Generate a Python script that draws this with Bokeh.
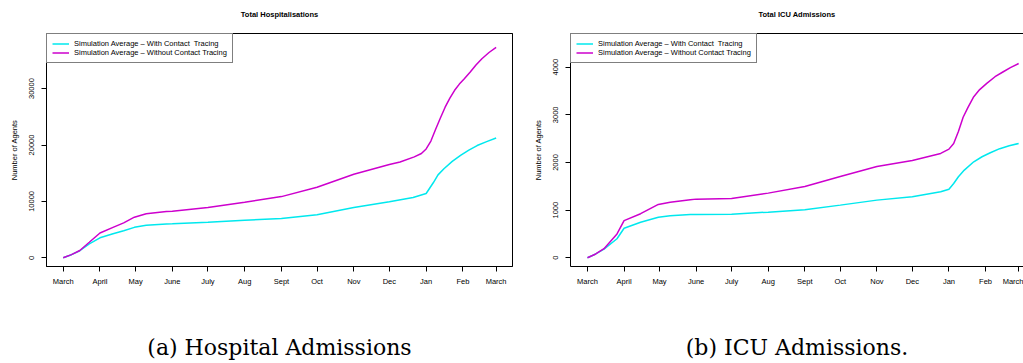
from bokeh.plotting import figure
from bokeh.layouts import row
from bokeh.models import FixedTicker, Legend, LegendItem, LinearAxis, Range1d
from bokeh.embed import file_html
from bokeh.resources import INLINE

# ---- data ----
month_days = [0, 31, 61, 92, 122, 153, 184, 214, 245, 275, 306, 337, 365]
month_labels = ["March", "April", "May", "June", "July", "Aug", "Sept", "Oct",
                "Nov", "Dec", "Jan", "Feb", "March"]

hosp_ct_days = [0, 7, 14, 22, 31, 42, 51, 60, 70, 87, 92, 122, 153, 184, 214, 245,
                275, 295, 306, 312, 316, 321, 328, 335, 342, 349, 357, 365]
hosp_ct_vals = [0, 550, 1250, 2480, 3540, 4250, 4800, 5400, 5770, 6000, 6020, 6300,
                6650, 6950, 7650, 8900, 9950, 10700, 11400, 13300, 14700, 15800,
                17100, 18150, 19100, 19900, 20600, 21240]

hosp_noct_days = [0, 7, 14, 22, 31, 42, 51, 60, 70, 87, 92, 122, 153, 184, 214, 245,
                  275, 284, 296, 302, 306, 310, 314, 318, 322, 326, 330, 334, 338,
                  343, 348, 353, 359, 365]
hosp_noct_vals = [0, 560, 1300, 2750, 4400, 5400, 6200, 7200, 7800, 8200, 8250, 8900,
                  9850, 10850, 12500, 14800, 16550, 17000, 17900, 18500, 19300,
                  20700, 22800, 24800, 26700, 28300, 29700, 30800, 31700, 32900,
                  34200, 35300, 36400, 37300]

icu_ct_days = [0, 7, 14, 25, 31, 45, 60, 70, 87, 92, 122, 153, 184, 214, 245, 275,
               299, 306, 310, 314, 319, 327, 334, 341, 349, 357, 365]
icu_ct_vals = [0, 80, 180, 400, 620, 747, 852, 880, 909, 910, 916, 958, 1007, 1105,
               1210, 1280, 1385, 1440, 1560, 1700, 1840, 2015, 2120, 2204, 2290,
               2350, 2399]

icu_noct_days = [0, 7, 14, 25, 31, 45, 60, 70, 87, 92, 122, 153, 184, 214, 245, 275,
                 299, 306, 310, 314, 318, 322, 327, 332, 338, 345, 352, 358, 365]
icu_noct_vals = [0, 80, 190, 500, 780, 925, 1120, 1167, 1217, 1231, 1245, 1357, 1497,
                 1707, 1917, 2043, 2190, 2280, 2400, 2650, 2950, 3150, 3380, 3530,
                 3660, 3800, 3904, 3990, 4078]

hosp_yticks = [0, 10000, 20000, 30000]
icu_yticks = [0, 1000, 2000, 3000, 4000]

label_ct = "Simulation Average \u2013 With Contact  Tracing"
label_noct = "Simulation Average \u2013 Without Contact Tracing"

CYAN = "#00E8EE"
MAGENTA = "#CD00CD"
FONT = "Liberation Sans"


def make_panel(title, caption, ct_d, ct_v, no_d, no_v, yticks, xr, yr, width,
               mbl, mbr, outline):
    p = figure(width=width, height=363, output_backend="svg", toolbar_location=None,
               x_range=Range1d(*xr), y_range=Range1d(*yr),
               min_border_left=mbl, min_border_right=mbr, min_border_top=33,
               min_border_bottom=97)
    p.background_fill_color = "white"
    p.border_fill_color = "white"
    p.xgrid.visible = False
    p.ygrid.visible = False
    p.outline_line_color = "black" if outline else None

    r1 = p.line(ct_d, ct_v, line_color=CYAN, line_width=1.5)
    r2 = p.line(no_d, no_v, line_color=MAGENTA, line_width=1.5)

    for ax in (p.xaxis[0], p.yaxis[0]):
        ax.major_tick_out = 5
        ax.major_tick_in = 0
        ax.minor_tick_out = 0
        ax.minor_tick_in = 0
        ax.axis_line_color = "black"
        ax.major_tick_line_color = "black"
        ax.major_label_text_font = FONT
        ax.major_label_text_font_size = "7.5px"
        ax.major_label_text_color = "black"

    p.xaxis.ticker = FixedTicker(ticks=month_days)
    p.xaxis.major_label_overrides = {d: m for d, m in zip(month_days, month_labels)}
    p.xaxis.major_label_standoff = 5
    # sub-figure caption drawn as the bottom axis label
    p.xaxis.axis_label = caption
    p.xaxis.axis_label_text_font = "DejaVu Serif"
    p.xaxis.axis_label_text_font_size = "22px"
    p.xaxis.axis_label_text_font_style = "normal"
    p.xaxis.axis_label_text_color = "black"
    p.xaxis.axis_label_standoff = 46

    p.yaxis.ticker = FixedTicker(ticks=yticks)
    p.yaxis.major_label_orientation = "vertical"
    p.yaxis.major_label_standoff = 7
    p.yaxis.axis_label = "Number of Agents"
    p.yaxis.axis_label_text_font = FONT
    p.yaxis.axis_label_text_font_size = "7.5px"
    p.yaxis.axis_label_text_font_style = "normal"
    p.yaxis.axis_label_text_color = "black"
    p.yaxis.axis_label_standoff = 8

    # top border line + plot title
    top = LinearAxis(ticker=FixedTicker(ticks=[]), major_tick_out=0,
                     major_tick_in=0, minor_tick_out=0, minor_tick_in=0,
                     major_label_standoff=0, axis_line_color="black",
                     axis_label=title, axis_label_text_font=FONT,
                     axis_label_text_font_size="7.5px",
                     axis_label_text_font_style="bold",
                     axis_label_text_color="black", axis_label_standoff=15)
    p.add_layout(top, "above")

    legend = Legend(items=[LegendItem(label=label_ct, renderers=[r1]),
                           LegendItem(label=label_noct, renderers=[r2])],
                    location="top_left", margin=0, padding=5, spacing=0,
                    label_text_font=FONT, label_text_font_size="7.5px",
                    label_text_color="black",
                    label_height=9, glyph_height=9, glyph_width=17,
                    label_standoff=5, border_line_color="black",
                    border_line_width=1, background_fill_color="white",
                    background_fill_alpha=1)
    p.add_layout(legend)
    return p


p1 = make_panel("Total Hospitalisations", "(a) Hospital Admissions",
                hosp_ct_days, hosp_ct_vals, hosp_noct_days, hosp_noct_vals,
                hosp_yticks, (-14.08, 378.8), (-1543, 39770), 530, 46, 18, True)
p2 = make_panel("Total ICU Admissions", "(b) ICU Admissions.",
                icu_ct_days, icu_ct_vals, icu_noct_days, icu_noct_vals,
                icu_yticks, (-14.36, 369.1), (-183, 4707), 493, 39, 0, False)

layout = row(p1, p2)
open("out.html", "w").write(file_html(layout, INLINE))
